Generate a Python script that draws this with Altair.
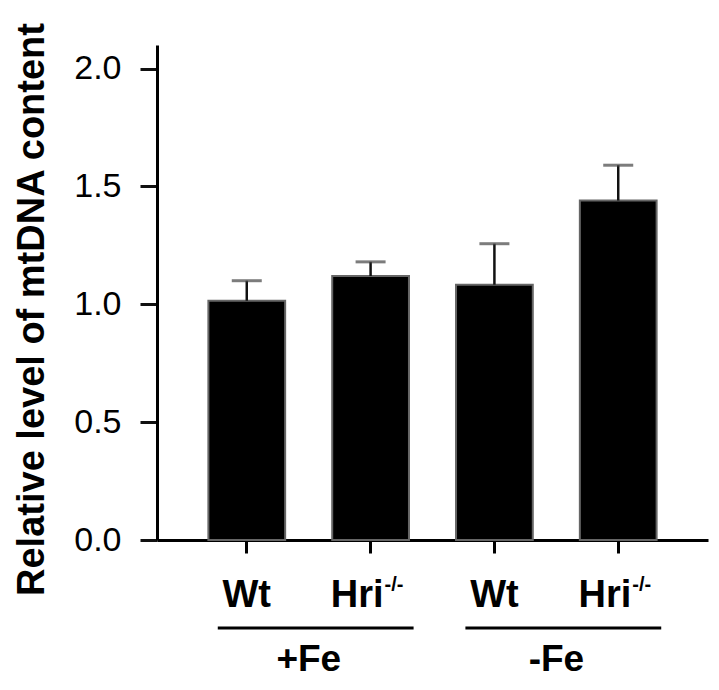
import altair as alt
import pandas as pd

# ---- data ----
categories = ["Wt +Fe", "Hri +Fe", "Wt -Fe", "Hri -Fe"]
genotypes = ["Wt", "Hri", "Wt", "Hri"]
superscripts = ["", "-/-", "", "-/-"]
means = [1.015, 1.12, 1.083, 1.44]
upper = [1.10, 1.18, 1.257, 1.59]
groups = ["+Fe", "-Fe"]
group_start = ["Wt +Fe", "Wt -Fe"]
group_end = ["Hri +Fe", "Hri -Fe"]
y_ticks = [0.0, 0.5, 1.0, 1.5, 2.0]

df = pd.DataFrame({"cat": categories, "geno": genotypes, "sup": superscripts,
                   "mean": means, "upper": upper})
gdf = pd.DataFrame({"label": groups, "start": group_start, "end": group_end})

FONT = "Liberation Sans"
H = 495
W = 551

xscale = alt.Scale(domain=categories, paddingInner=0.38, paddingOuter=0.415)
yscale = alt.Scale(domain=[0, 2.1], nice=False, zero=True)

xaxis = alt.Axis(labels=False, title=None, domainWidth=3, domainColor="black",
                 tickWidth=3, tickSize=13, tickColor="black", grid=False)
yaxis = alt.Axis(values=y_ticks, format=".1f",
                 title="Relative level of mtDNA content",
                 titleFont=FONT, titleFontSize=38, titleFontWeight="bold",
                 titleColor="black", titleAngle=270, titleX=-114, titleY=264,
                 titleAlign="center", titleBaseline="alphabetic",
                 labelFont=FONT, labelFontSize=34, labelColor="black",
                 labelPadding=19, tickSize=17, tickWidth=3, tickColor="#111",
                 domainWidth=3, domainColor="black", grid=False)

base = alt.Chart(df)

bars = base.mark_bar(color="black", stroke="#666", strokeWidth=2).encode(
    x=alt.X("cat:N", scale=xscale, axis=xaxis),
    y=alt.Y("mean:Q", scale=yscale, axis=yaxis),
)

stems = base.mark_rule(color="#111", strokeWidth=2.5).encode(
    x=alt.X("cat:N", scale=xscale, axis=xaxis),
    y=alt.Y("mean:Q", scale=yscale, axis=yaxis),
    y2="upper:Q",
)

caps = base.mark_tick(color="#444", thickness=3, size=30).encode(
    x=alt.X("cat:N", scale=xscale, axis=xaxis),
    y=alt.Y("upper:Q", scale=yscale, axis=yaxis),
)

wt_text = base.transform_filter(alt.datum.sup == "").mark_text(
    font=FONT, fontSize=38, fontWeight="bold", color="black",
    align="center", baseline="alphabetic").encode(
    x=alt.X("cat:N", scale=xscale, axis=xaxis),
    y=alt.value(H + 67),
    text="geno:N",
)

hri_text = base.transform_filter(alt.datum.sup != "").mark_text(
    font=FONT, fontSize=38, fontWeight="bold", color="black",
    align="right", baseline="alphabetic", dx=13).encode(
    x=alt.X("cat:N", scale=xscale, axis=xaxis),
    y=alt.value(H + 67),
    text="geno:N",
)

sup_text = base.transform_filter(alt.datum.sup != "").mark_text(
    font=FONT, fontSize=20, fontWeight="bold", color="black",
    align="left", baseline="alphabetic", dx=14).encode(
    x=alt.X("cat:N", scale=xscale, axis=xaxis),
    y=alt.value(H + 51),
    text="sup:N",
)

gbase = alt.Chart(gdf)

glines = gbase.mark_rule(color="black", strokeWidth=3, xOffset=-29, x2Offset=43).encode(
    x=alt.X("start:N", scale=xscale, axis=xaxis),
    x2="end:N",
    y=alt.value(H + 88),
)

glabels = gbase.mark_text(
    font=FONT, fontSize=37, fontWeight="bold", color="black",
    align="center", baseline="alphabetic", dx=62).encode(
    x=alt.X("start:N", scale=xscale, axis=xaxis),
    y=alt.value(H + 131),
    text="label:N",
)

chart = alt.layer(bars, stems, caps, wt_text, hri_text, sup_text, glines, glabels).properties(
    width=W, height=H,
    autosize=alt.AutoSizeParams(type="none"),
    padding={"left": 149, "top": 37, "right": 3, "bottom": 141},
).configure_view(stroke=None).configure_axis(grid=False)

chart.save("out.html", embed_options={"renderer": "svg", "actions": False})
